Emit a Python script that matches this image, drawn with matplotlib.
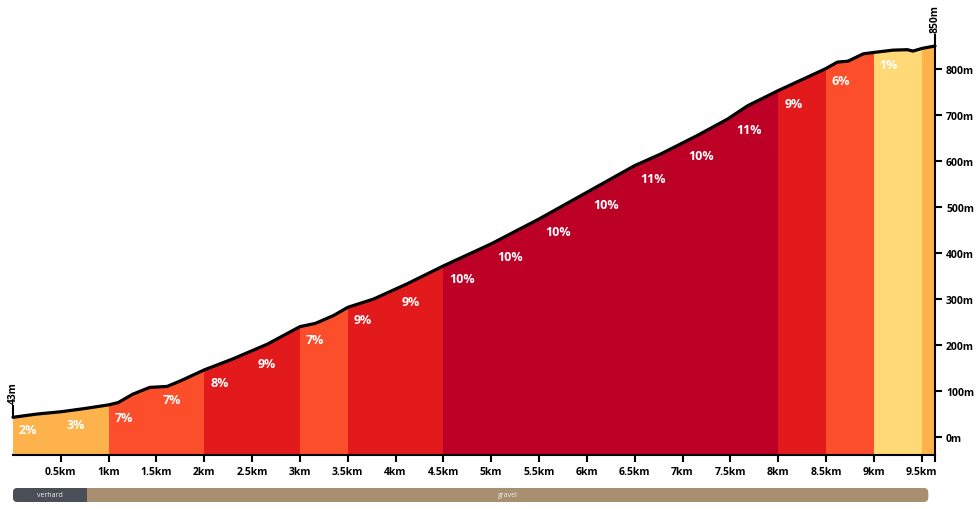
import numpy as np
import matplotlib
matplotlib.use("Agg")
import matplotlib.pyplot as plt
from matplotlib.patches import Polygon, FancyBboxPatch

plt.rcParams['font.family'] = ['Open Sans', 'DejaVu Sans']

# elevation profile (km, m)
dist = [0, 0.25, 0.5, 0.75, 1.0, 1.1, 1.25, 1.43, 1.61, 1.75, 2.0, 2.3, 2.66,
        3.0, 3.16, 3.35, 3.5, 3.77, 4.12, 4.5, 5.0, 5.5, 6.0, 6.5, 6.77, 7.15,
        7.47, 7.68, 8.0, 8.25, 8.49, 8.62, 8.73, 8.89, 9.0, 9.2, 9.35, 9.41,
        9.51, 9.64]
elev = [43, 50, 55, 62, 70, 75, 93, 108, 110, 122, 146, 170, 202,
        240, 247, 264, 282, 300, 333, 372, 420, 474, 532, 590, 615, 655,
        691, 720, 753, 777, 800, 815, 817, 833, 836, 841, 842, 839,
        845, 850]

# gradient per 0.5 km segment
seg_start = [0, 0.5, 1, 1.5, 2, 2.5, 3, 3.5, 4, 4.5, 5, 5.5, 6, 6.5, 7, 7.5,
             8, 8.5, 9, 9.5]
seg_grade = [2, 3, 7, 7, 8, 9, 7, 9, 9, 10, 10, 10, 10, 11, 10, 11, 9, 6, 1, 4]
seg_label = [True] * 19 + [False]

# road surface
surf_name = ['verhard', 'gravel']
surf_start = [0, 0.77]
surf_end = [0.77, 9.57]
surf_color = ['#4a4e57', '#a88f6f']


def grade_color(g):
    if g < 2:
        return '#fed976'
    if g < 6:
        return '#feb24c'
    if g < 8:
        return '#fc4e2a'
    if g < 10:
        return '#e31a1c'
    return '#bd0026'


W, H = 979, 510
fig = plt.figure(figsize=(W / 100, H / 100), dpi=100)
ax = fig.add_axes([13 / W, (H - 456) / H, 922 / W, 409 / H])
ymin, ymax = -39, 850
xmax = dist[-1]
ax.set_xlim(0, xmax)
ax.set_ylim(ymin, ymax)

verts = [(0, ymin)] + list(zip(dist, elev)) + [(xmax, ymin)]
clip = Polygon(verts, closed=True, facecolor='none', edgecolor='none')
ax.add_patch(clip)

ends = seg_start[1:] + [xmax]
for x0, x1, g, show in zip(seg_start, ends, seg_grade, seg_label):
    span = ax.axvspan(x0, x1, color=grade_color(g), lw=0)
    span.set_clip_path(clip)
    if show:
        y0 = np.interp(x0, dist, elev)
        ax.annotate(f'{g}%', (x0, y0), xytext=(6, -12.5),
                    textcoords='offset pixels', ha='left', va='center',
                    color='white', fontsize=9, fontweight='bold')

ax.plot(dist, elev, color='black', lw=2.3, solid_capstyle='round',
        solid_joinstyle='round', clip_on=False, zorder=5)

# start / end markers
for x, y in [(0, elev[0]), (xmax, elev[-1])]:
    ax.plot([x, x], [y, y + 24], color='black', lw=1.5, clip_on=False, zorder=6)
    ax.annotate(f'{y}m', (x, y + 31), ha='center', va='bottom', rotation=90,
                fontsize=7.5, fontweight='bold', annotation_clip=False)

for s in ['top', 'left']:
    ax.spines[s].set_visible(False)
for s in ['bottom', 'right']:
    ax.spines[s].set_linewidth(1.5)
    ax.spines[s].set_zorder(7)

xt = [0.5 * i for i in range(1, 20)]
ax.set_xticks(xt + [xmax])
ax.set_xticklabels([f'{t:g}km' for t in xt] + [''])
ax.yaxis.tick_right()
ax.set_yticks(range(0, 801, 100))
ax.set_yticklabels([f'{v}m' for v in range(0, 801, 100)])
ax.tick_params(axis='x', length=5, width=1.5, pad=3, labelsize=7.5)
ax.tick_params(axis='y', length=5, width=1.5, pad=3, labelsize=7.5)
for lab in ax.get_xticklabels() + ax.get_yticklabels():
    lab.set_fontweight('bold')
ax.yaxis.get_major_ticks()[0].tick2line.set_color('#cccccc')

# surface bar
bax = fig.add_axes([13 / W, (H - 503) / H, 922 / W, 14 / H])
bax.set_xlim(0, xmax)
bax.set_ylim(0, 1)
bax.axis('off')
px_per_km = 922 / xmax
asp = px_per_km / 14
r = 4.5 / px_per_km
full = FancyBboxPatch((surf_start[0], 0), surf_end[-1] - surf_start[0], 1,
                      boxstyle=f'round,pad=0,rounding_size={r}',
                      mutation_aspect=asp, fc=surf_color[1], ec='none')
bax.add_patch(full)
first = FancyBboxPatch((surf_start[0], 0), surf_end[0] - surf_start[0], 1,
                       boxstyle=f'round,pad=0,rounding_size={r}',
                       mutation_aspect=asp, fc=surf_color[0], ec='none')
bax.add_patch(first)
bax.fill_between([surf_end[0] - r, surf_end[0]], 0, 1, color=surf_color[0], lw=0)
for name, a, b in zip(surf_name, surf_start, surf_end):
    bax.text((a + b) / 2, 0.5, name, ha='center', va='center',
             color='#eeeeee', fontsize=5)

fig.savefig('out.png', dpi=100)
